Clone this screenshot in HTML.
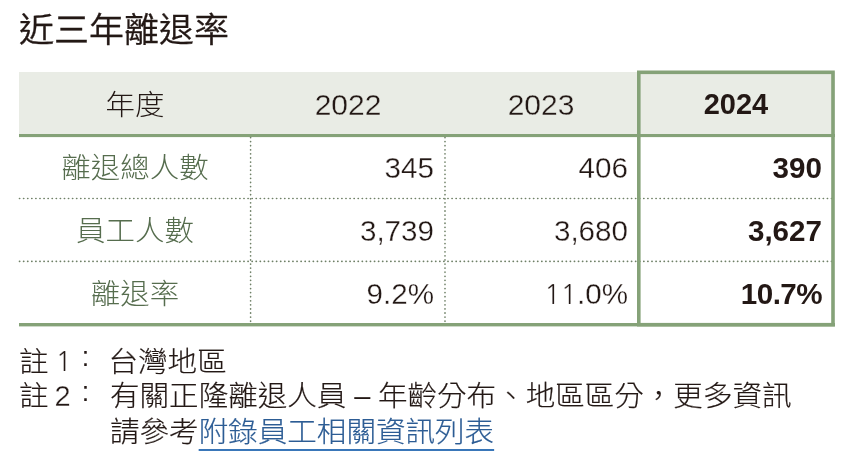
<!DOCTYPE html>
<html lang="zh-Hant">
<head>
<meta charset="utf-8">
<title>近三年離退率</title>
<style>
html,body{margin:0;padding:0;background:#fff;}
body{width:843px;height:459px;overflow:hidden;position:relative;
  font-family:"Liberation Sans","Noto Sans CJK TC",sans-serif;color:#231815;}
#shapes{position:absolute;left:0;top:0;}
#txt{position:absolute;left:0;top:0;width:843px;height:459px;will-change:transform;}
.t{position:absolute;white-space:nowrap;line-height:1;}
h1{position:absolute;left:19px;top:11.8px;margin:0;font-size:35px;font-weight:350;line-height:1;white-space:nowrap;transform:scaleY(0.965);transform-origin:0 50%;-webkit-text-stroke:0.3px #231815;}
.hd{font-size:30px;top:89.5px;text-align:center;font-weight:300;}
.lab{transform:scaleY(0.955);transform-origin:50% 95%;font-size:29.5px;color:#566d4e;font-weight:300;text-align:center;left:19px;width:232px;}
.num{font-size:29.6px;text-align:right;}
.thin{-webkit-text-stroke:0.3px #fff;}
.thinh{-webkit-text-stroke:0.3px #e9ece5;}
.b{font-weight:700;}
.num.b{margin-top:-0.5px;}
.one{font-family:"NanumGothic","Liberation Sans",sans-serif;font-weight:400;font-size:0.93em;display:inline-block;width:0.598em;text-align:center;-webkit-text-stroke:0.2px #fff;}
.c2{left:251px;width:183px;}
.c3{left:445px;width:183px;}
.c4{left:641px;width:181px;}
.r1{top:153px;}
.r2{top:216px;}
.r3{top:279px;}
.note{position:absolute;left:19px;height:35.3px;width:800px;font-size:29.55px;line-height:35.3px;white-space:nowrap;}
.note span{position:absolute;top:0;}
.note .zh{transform:scaleY(0.945);transform-origin:50% 50%;}
.note .zh{font-weight:300;-webkit-text-stroke:0.2px #231815;}
.note .n{font-weight:400;font-size:29px;}
.note .col{font-weight:400;font-size:26.8px;left:62.7px;top:-4.0px;}
.note .dash{-webkit-text-stroke:0;position:relative;top:-1.7px;font-weight:400;font-size:29px;letter-spacing:-0.25px;}
a{color:#2c5c94;-webkit-text-stroke:0.2px #2c5c94;text-decoration:underline;text-decoration-color:#2e6fb5;text-decoration-thickness:1.5px;text-underline-offset:6.6px;}
</style>
</head>
<body>
<svg id="shapes" width="843" height="459" viewBox="0 0 843 459">
  <rect x="19" y="72" width="816" height="62" fill="#e9ece5"/>
  <rect x="19" y="134" width="816" height="3.1" fill="#85a278"/>
  <rect x="19" y="323" width="816" height="3.4" fill="#85a278"/>
  <g stroke="#6f8067" stroke-width="1.65" stroke-linecap="round" stroke-dasharray="0.2 3.88" fill="none">
    <line x1="19.5" y1="198.5" x2="835" y2="198.5"/>
    <line x1="19.5" y1="261.4" x2="835" y2="261.4"/>
    <line x1="250.6" y1="137.5" x2="250.6" y2="323"/>
    <line x1="445" y1="137.5" x2="445" y2="323"/>
  </g>
  <rect x="638.8" y="72.3" width="194.2" height="252.4" fill="none" stroke="#85a278" stroke-width="3.6"/>
</svg>

<div id="txt">
<h1>近三年離退率</h1>

<div class="t hd" style="left:19px;width:232px;font-size:29.5px;top:90px;transform:scaleY(0.965);transform-origin:50% 50%">年度</div>
<div class="t hd thinh c2" style="width:194px">2022</div>
<div class="t hd thinh c3" style="width:192px">2023</div>
<div class="t hd b" style="left:637px;width:198px;font-size:29px;top:90px">2024</div>

<div class="t lab r1">離退總人數</div>
<div class="t num thin c2 r1">345</div>
<div class="t num thin c3 r1">406</div>
<div class="t num c4 r1 b">390</div>

<div class="t lab r2">員工人數</div>
<div class="t num thin c2 r2">3,739</div>
<div class="t num thin c3 r2">3,680</div>
<div class="t num c4 r2 b">3,627</div>

<div class="t lab r3">離退率</div>
<div class="t num thin c2 r3">9.2%</div>
<div class="t num thin c3 r3"><span class="one">1</span><span class="one">1</span>.0%</div>
<div class="t num c4 r3 b" style="letter-spacing:-0.55px;margin-right:0">10.7%</div>

<div class="note" style="top:344.8px"><span class="zh" style="left:0">註</span><span class="n" style="left:36.5px;top:-0.9px"><span class="one" style="position:static">1</span></span><span class="col" style="top:-4.4px">:</span><span class="zh" style="left:89.5px">台灣地區</span></div>
<div class="note" style="top:379.1px"><span class="zh" style="left:0">註</span><span class="n thin" style="left:35.5px">2</span><span class="col">:</span><span class="zh" style="left:91px">有關正隆離退人員<span class="dash"> – </span>年齡分布、地區區分，更多資訊</span></div>
<div class="note" style="top:415.3px"><span class="zh" style="left:91px">請參考<a>附錄員工相關資訊列表</a></span></div>
</div>
</body>
</html>
